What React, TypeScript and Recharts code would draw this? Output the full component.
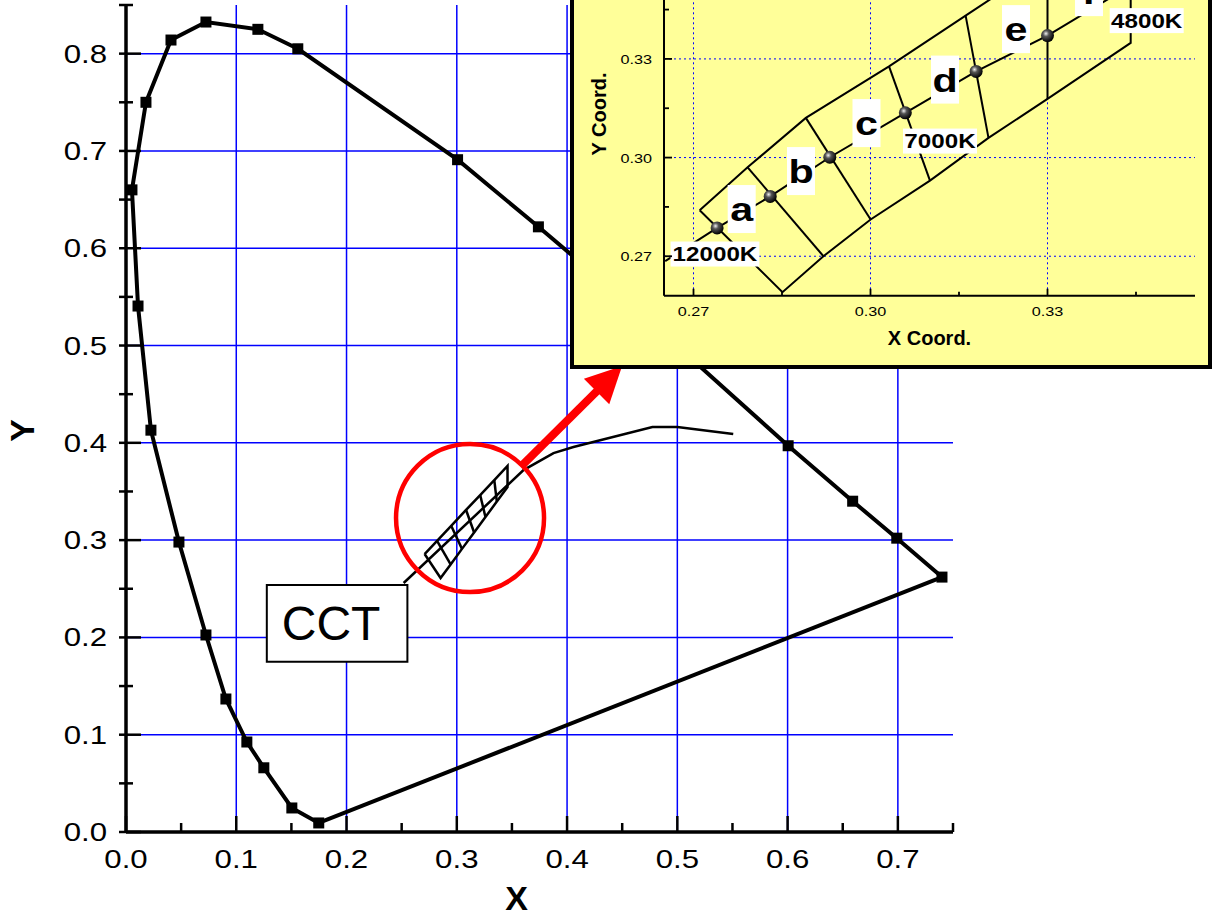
import React from 'react';
import {
  ScatterChart,
  Scatter,
  XAxis,
  YAxis,
  CartesianGrid,
  ReferenceArea,
  ReferenceDot,
  ReferenceLine,
} from 'recharts';

const FONT = '"Liberation Sans", Arial, Helvetica, sans-serif';

// ---------------- main chart data (CIE 1931 x, y) ----------------
const spectralLocus = [
  { x: 0.1748, y: 0.0093 },
  { x: 0.1504, y: 0.0247 },
  { x: 0.125, y: 0.066 },
  { x: 0.1096, y: 0.0925 },
  { x: 0.0906, y: 0.1367 },
  { x: 0.0725, y: 0.2025 },
  { x: 0.048, y: 0.298 },
  { x: 0.0226, y: 0.413 },
  { x: 0.0109, y: 0.5406 },
  { x: 0.0054, y: 0.66 },
  { x: 0.0181, y: 0.75 },
  { x: 0.0408, y: 0.814 },
  { x: 0.0725, y: 0.8325 },
  { x: 0.1196, y: 0.825 },
  { x: 0.1558, y: 0.805 },
  { x: 0.3007, y: 0.691 },
  { x: 0.374, y: 0.622 },
  { x: 0.4441, y: 0.5547 },
  { x: 0.5125, y: 0.4866 },
  { x: 0.6005, y: 0.397 },
  { x: 0.659, y: 0.34 },
  { x: 0.699, y: 0.302 },
  { x: 0.74, y: 0.262 },
];
const purpleLine = [
  { x: 0.74, y: 0.262 },
  { x: 0.1748, y: 0.0093 },
];
const planckMain = [
  { x: 0.2518, y: 0.2559 },
  { x: 0.3605, y: 0.372 },
  { x: 0.3877, y: 0.3895 },
  { x: 0.4058, y: 0.3957 },
  { x: 0.4774, y: 0.4162 },
  { x: 0.5, y: 0.4162 },
  { x: 0.5507, y: 0.409 },
];
const hatchMainOutline = [
  { x: 0.2708, y: 0.2857 },
  { x: 0.2821, y: 0.2993 },
  { x: 0.2949, y: 0.3147 },
  { x: 0.3084, y: 0.331 },
  { x: 0.3212, y: 0.3463 },
  { x: 0.334, y: 0.3617 },
  { x: 0.346, y: 0.3762 },
  { x: 0.346, y: 0.3546 },
  { x: 0.3363, y: 0.3396 },
  { x: 0.326, y: 0.3237 },
  { x: 0.3157, y: 0.3078 },
  { x: 0.3047, y: 0.291 },
  { x: 0.2944, y: 0.275 },
  { x: 0.2853, y: 0.261 },
  { x: 0.2708, y: 0.2857 },
];
const hatchMainCross = [
  [{ x: 0.2821, y: 0.2993 }, { x: 0.2944, y: 0.275 }],
  [{ x: 0.2949, y: 0.3147 }, { x: 0.3047, y: 0.291 }],
  [{ x: 0.3084, y: 0.331 }, { x: 0.3157, y: 0.3078 }],
  [{ x: 0.3212, y: 0.3463 }, { x: 0.326, y: 0.3237 }],
  [{ x: 0.334, y: 0.3617 }, { x: 0.3363, y: 0.3396 }],
];
const cctBox = { x1: 0.1277, x2: 0.2552, y1: 0.175, y2: 0.2539, text: 'CCT' };
const zoomCircle = { x: 0.312, y: 0.3227 };
const zoomArrow = [
  { x: 0.359, y: 0.3765 },
  { x: 0.4499, y: 0.4789 },
];

const mainXTicks = [0, 0.05, 0.1, 0.15, 0.2, 0.25, 0.3, 0.35, 0.4, 0.45, 0.5, 0.55, 0.6, 0.65, 0.7, 0.75];
const mainYTicks = [0, 0.05, 0.1, 0.15, 0.2, 0.25, 0.3, 0.35, 0.4, 0.45, 0.5, 0.55, 0.6, 0.65, 0.7, 0.75, 0.8, 0.85];
const mainXGrid = [0.1, 0.2, 0.3, 0.4, 0.5, 0.6, 0.7];
const mainYGrid = [0.1, 0.2, 0.3, 0.4, 0.5, 0.6, 0.7, 0.8];

// ---------------- inset data ----------------
const insetOutline = [
  { x: 0.27105, y: 0.28399 },
  { x: 0.27917, y: 0.29705 },
  { x: 0.28904, y: 0.31207 },
  { x: 0.30314, y: 0.32775 },
  { x: 0.31612, y: 0.34316 },
  { x: 0.33, y: 0.35964 },
  { x: 0.3441, y: 0.3764 },
  { x: 0.3441, y: 0.33486 },
  { x: 0.33, y: 0.31784 },
  { x: 0.32, y: 0.30598 },
  { x: 0.31008, y: 0.29301 },
  { x: 0.30002, y: 0.28116 },
  { x: 0.29202, y: 0.27 },
  { x: 0.28508, y: 0.25906 },
  { x: 0.27105, y: 0.28399 },
];
const insetIsotherms = [
  [{ x: 0.27917, y: 0.29705 }, { x: 0.29202, y: 0.27 }],
  [{ x: 0.28904, y: 0.31207 }, { x: 0.30002, y: 0.28116 }],
  [{ x: 0.30314, y: 0.32775 }, { x: 0.31008, y: 0.29301 }],
  [{ x: 0.31612, y: 0.34316 }, { x: 0.32, y: 0.30598 }],
  [{ x: 0.33, y: 0.35964 }, { x: 0.33, y: 0.31784 }],
];
const cctPoints = [
  { x: 0.274, y: 0.2786 },
  { x: 0.283, y: 0.2882 },
  { x: 0.2931, y: 0.3001 },
  { x: 0.3059, y: 0.3136 },
  { x: 0.3179, y: 0.3262 },
  { x: 0.33, y: 0.3371 },
  { x: 0.3441, y: 0.3523 },
];
const planckInset = [
  { x: 0.2652, y: 0.2685 },
  ...cctPoints,
  { x: 0.355, y: 0.364 },
];
const cellLabels = [
  { x: 0.27817, y: 0.28435, t: 'a' },
  { x: 0.28822, y: 0.2959, t: 'b' },
  { x: 0.29932, y: 0.31049, t: 'c' },
  { x: 0.31263, y: 0.32371, t: 'd' },
  { x: 0.32466, y: 0.33906, t: 'e' },
  { x: 0.33703, y: 0.35031, t: 'f' },
];
const tempLabels = [
  { x: 0.27364, y: 0.27067, t: '12000K' },
  { x: 0.31178, y: 0.30502, t: '7000K' },
  { x: 0.34681, y: 0.34165, t: '4800K' },
];
const insetXTicks = [0.27, 0.285, 0.3, 0.315, 0.33, 0.345];
const insetYTicks = [0.27, 0.285, 0.3, 0.315, 0.33, 0.345, 0.36];
const insetYLabels = [0.27, 0.3, 0.33];
const insetGrid = [0.27, 0.3, 0.33];

// ---------------- helpers ----------------
const isMajor = (v: number, step: number) => Math.abs(v / step - Math.round(v / step)) < 1e-6;
const noShape = () => <g />;

const Square = (p: any) => (
  <rect x={p.cx - 5.5} y={p.cy - 5.5} width={11} height={11} fill="#000" />
);

const Ball = (p: any) => (
  <g>
    <defs>
      <radialGradient id="ballGrad" cx="38%" cy="35%" r="65%">
        <stop offset="0%" stopColor="#f0f0f0" />
        <stop offset="35%" stopColor="#555" />
        <stop offset="100%" stopColor="#000" />
      </radialGradient>
    </defs>
    <circle cx={p.cx} cy={p.cy} r={6.5} fill="url(#ballGrad)" />
  </g>
);

const LetterLabel = (p: any) => (
  <g>
    <rect x={p.cx - 14} y={p.cy - 24} width={28} height={48} fill="#fff" />
    <text
      transform={`translate(${p.cx},${p.cy + 12}) scale(1.25,1)`}
      textAnchor="middle"
      fontSize={33}
      fontWeight="bold"
      fontFamily={FONT}
      fill="#000"
    >
      {p.payload.t}
    </text>
  </g>
);

const TempLabel = (p: any) => {
  const w = 14.8 * p.payload.t.length;
  return (
    <g>
      <rect x={p.cx - w / 2} y={p.cy - 12.5} width={w} height={25} fill="#fff" />
      <text
        transform={`translate(${p.cx},${p.cy + 7}) scale(1.21,1)`}
        textAnchor="middle"
        fontSize={20}
        fontWeight="bold"
        fontFamily={FONT}
        fill="#000"
      >
        {p.payload.t}
      </text>
    </g>
  );
};

const Arrow = (p: any) => {
  const { x1, y1, x2, y2 } = p;
  const dx = x2 - x1;
  const dy = y2 - y1;
  const len = Math.hypot(dx, dy) || 1;
  const ux = dx / len;
  const uy = dy / len;
  const headLen = 36;
  const headW = 18;
  const bx = x2 - ux * headLen;
  const by = y2 - uy * headLen;
  const px = -uy;
  const py = ux;
  return (
    <g>
      <line x1={x1} y1={y1} x2={bx + ux * 3} y2={by + uy * 3} stroke="#ff0000" strokeWidth={8} />
      <polygon
        points={`${x2},${y2} ${bx + px * headW},${by + py * headW} ${bx - px * headW},${by - py * headW}`}
        fill="#ff0000"
      />
    </g>
  );
};

// main axis ticks
const MainBottomTick = (p: any) => {
  const v = p.payload.value;
  const major = isMajor(v, 0.1);
  return (
    <g>
      <line x1={p.x} x2={p.x} y1={p.y} y2={p.y - (major ? 16 : 9)} stroke="#000" strokeWidth={2.5} />
      {major && (
        <text
          transform={`translate(${p.x},${p.y + 36}) scale(1.2,1)`}
          textAnchor="middle"
          fontSize={26}
          fontFamily={FONT}
          fill="#000"
        >
          {v.toFixed(1)}
        </text>
      )}
    </g>
  );
};
const MainTopTick = (p: any) => {
  const major = isMajor(p.payload.value, 0.1);
  return <line x1={p.x} x2={p.x} y1={p.y} y2={p.y + (major ? 11 : 8)} stroke="#000" strokeWidth={2.5} />;
};
const MainLeftTick = (p: any) => {
  const v = p.payload.value;
  const major = isMajor(v, 0.1);
  return (
    <g>
      <line x1={p.x - 7} x2={p.x + (major ? 15 : 7)} y1={p.y} y2={p.y} stroke="#000" strokeWidth={2.5} />
      {major && (
        <text
          transform={`translate(${p.x - 19},${p.y + 9}) scale(1.2,1)`}
          textAnchor="end"
          fontSize={26}
          fontFamily={FONT}
          fill="#000"
        >
          {v.toFixed(1)}
        </text>
      )}
    </g>
  );
};
const MainRightTick = (p: any) => {
  const major = isMajor(p.payload.value, 0.1);
  return <line x1={p.x} x2={p.x - (major ? 16 : 10)} y1={p.y} y2={p.y} stroke="#000" strokeWidth={2.5} />;
};

// inset axis ticks
const InsetBottomTick = (p: any) => {
  const v = p.payload.value;
  const major = isMajor(v, 0.03);
  return (
    <g>
      <line x1={p.x} x2={p.x} y1={p.y} y2={p.y - (major ? 7 : 4)} stroke="#000" strokeWidth={1.8} />
      {major && (
        <text
          transform={`translate(${p.x},${p.y + 20}) scale(1.2,1)`}
          textAnchor="middle"
          fontSize={13.5}
          fontFamily={FONT}
          fill="#000"
        >
          {v.toFixed(2)}
        </text>
      )}
    </g>
  );
};
const InsetTopTick = (p: any) => {
  const major = isMajor(p.payload.value, 0.03);
  return <line x1={p.x} x2={p.x} y1={p.y} y2={p.y + (major ? 7 : 4)} stroke="#000" strokeWidth={1.8} />;
};
const InsetLeftTick = (p: any) => {
  const v = p.payload.value;
  const major = isMajor(v, 0.03);
  const labelled = insetYLabels.some((l) => Math.abs(l - v) < 1e-6);
  return (
    <g>
      <line x1={p.x} x2={p.x + (major ? 8 : 5)} y1={p.y} y2={p.y} stroke="#000" strokeWidth={1.8} />
      {labelled && (
        <text
          transform={`translate(${p.x - 12},${p.y + 5}) scale(1.2,1)`}
          textAnchor="end"
          fontSize={13.5}
          fontFamily={FONT}
          fill="#000"
        >
          {v.toFixed(2)}
        </text>
      )}
    </g>
  );
};
const InsetRightTick = (p: any) => {
  const major = isMajor(p.payload.value, 0.03);
  return <line x1={p.x} x2={p.x - (major ? 8 : 5)} y1={p.y} y2={p.y} stroke="#000" strokeWidth={1.8} />;
};

const lineOnly = (data: any[], key: string, width: number, axes: any) => (
  <Scatter
    key={key}
    data={data}
    {...axes}
    fill="#000"
    line={{ stroke: '#000', strokeWidth: width }}
    shape={noShape}
    isAnimationActive={false}
  />
);

const MAIN_AXES = { xAxisId: 'x', yAxisId: 'y' };
const INSET_AXES = { xAxisId: 'ix', yAxisId: 'iy' };

export default function App() {
  return (
    <div style={{ position: 'absolute', left: 0, top: 0, width: 1215, height: 917, overflow: 'hidden', background: '#fff' }}>
      <div style={{ position: 'absolute', left: 0, top: 0 }}>
        <ScatterChart width={1215} height={917} margin={{ top: 5, right: 262, bottom: 0, left: 0 }}>
          <CartesianGrid
            xAxisId="x"
            yAxisId="y"
            stroke="#0000ff"
            strokeWidth={1.5}
            verticalValues={mainXGrid}
            horizontalValues={mainYGrid}
          />
          <XAxis
            xAxisId="x"
            dataKey="x"
            type="number"
            domain={[0, 0.75]}
            allowDataOverflow
            ticks={mainXTicks}
            interval={0}
            tickSize={0}
            tickMargin={0}
            tickLine={false}
            tick={MainBottomTick}
            height={85}
            axisLine={{ stroke: '#000', strokeWidth: 3.5 }}
            label={{
              content: (lp: any) => (
                <text
                  x={lp.viewBox.x + lp.viewBox.width / 2 - 23}
                  y={lp.viewBox.y + 78}
                  textAnchor="middle"
                  fontSize={34}
                  fontWeight="bold"
                  fontFamily={FONT}
                  fill="#000"
                >
                  X
                </text>
              ),
            }}
          />
          <XAxis
            xAxisId="xt"
            orientation="top"
            type="number"
            domain={[0, 0.75]}
            allowDataOverflow
            ticks={mainXTicks}
            interval={0}
            tickSize={0}
            tickMargin={0}
            tickLine={false}
            tick={MainTopTick}
            height={0}
            axisLine={{ stroke: '#000', strokeWidth: 3.5 }}
          />
          <YAxis
            yAxisId="y"
            dataKey="y"
            type="number"
            domain={[0, 0.85]}
            allowDataOverflow
            ticks={mainYTicks}
            interval={0}
            tickSize={0}
            tickMargin={0}
            tickLine={false}
            tick={MainLeftTick}
            width={126}
            axisLine={{ stroke: '#000', strokeWidth: 3.5 }}
            label={{
              content: (lp: any) => (
                <text
                  transform={`translate(${lp.viewBox.x + 34},${lp.viewBox.y + lp.viewBox.height / 2 + 12}) rotate(-90)`}
                  textAnchor="middle"
                  fontSize={34}
                  fontWeight="bold"
                  fontFamily={FONT}
                  fill="#000"
                >
                  Y
                </text>
              ),
            }}
          />
          <YAxis
            yAxisId="yr"
            orientation="right"
            type="number"
            domain={[0, 0.85]}
            allowDataOverflow
            ticks={mainYTicks}
            interval={0}
            tickSize={0}
            tickMargin={0}
            tickLine={false}
            tick={MainRightTick}
            width={0}
            axisLine={{ stroke: '#000', strokeWidth: 3.5 }}
          />
          <ReferenceArea
            {...MAIN_AXES}
            x1={cctBox.x1}
            x2={cctBox.x2}
            y1={cctBox.y1}
            y2={cctBox.y2}
            fill="#fff"
            fillOpacity={1}
            stroke="#000"
            strokeWidth={2}
            label={{
              content: (lp: any) => (
                <text
                  x={lp.viewBox.x + lp.viewBox.width / 2 - 6}
                  y={lp.viewBox.y + lp.viewBox.height / 2 + 17}
                  textAnchor="middle"
                  fontSize={48}
                  fontFamily={FONT}
                  fill="#000"
                >
                  {cctBox.text}
                </text>
              ),
            }}
          />
          {lineOnly(purpleLine, 'purple', 4, MAIN_AXES)}
          <Scatter
            data={spectralLocus}
            {...MAIN_AXES}
            fill="#000"
            line={{ stroke: '#000', strokeWidth: 4 }}
            shape={Square}
            isAnimationActive={false}
          />
          {lineOnly(planckMain, 'planck', 2.5, MAIN_AXES)}
          {lineOnly(hatchMainOutline, 'hatchOut', 2.5, MAIN_AXES)}
          {hatchMainCross.map((seg, i) => lineOnly(seg, `hc${i}`, 2.5, MAIN_AXES))}
          <ReferenceDot
            {...MAIN_AXES}
            x={zoomCircle.x}
            y={zoomCircle.y}
            r={74}
            fill="none"
            stroke="#ff0000"
            strokeWidth={4.5}
          />
          <ReferenceLine {...MAIN_AXES} segment={zoomArrow} shape={Arrow} ifOverflow="visible" />
        </ScatterChart>
      </div>

      <div
        style={{
          position: 'absolute',
          left: 570,
          top: -120,
          width: 642,
          height: 489,
          border: '4px solid #000',
          boxSizing: 'border-box',
          background: '#ffff99',
        }}
      >
        <ScatterChart width={634} height={481} margin={{ top: 48.3, right: 13, bottom: 0, left: 0 }}>
          <CartesianGrid
            xAxisId="ix"
            yAxisId="iy"
            stroke="#0000ff"
            strokeWidth={1}
            strokeDasharray="2 3"
            verticalValues={insetGrid}
            horizontalValues={insetGrid}
          />
          <XAxis
            xAxisId="ix"
            dataKey="x"
            type="number"
            domain={[0.265, 0.355]}
            allowDataOverflow
            ticks={insetXTicks}
            interval={0}
            tickSize={0}
            tickMargin={0}
            tickLine={false}
            tick={InsetBottomTick}
            height={69.3}
            axisLine={{ stroke: '#000', strokeWidth: 2 }}
            label={{
              content: (lp: any) => (
                <text
                  x={lp.viewBox.x + lp.viewBox.width / 2}
                  y={lp.viewBox.y + 49}
                  textAnchor="middle"
                  fontSize={20}
                  fontWeight="bold"
                  fontFamily={FONT}
                  fill="#000"
                >
                  X Coord.
                </text>
              ),
            }}
          />
          <XAxis
            xAxisId="ixt"
            orientation="top"
            type="number"
            domain={[0.265, 0.355]}
            allowDataOverflow
            ticks={insetXTicks}
            interval={0}
            tickSize={0}
            tickMargin={0}
            tickLine={false}
            tick={InsetTopTick}
            height={0}
            axisLine={{ stroke: '#000', strokeWidth: 2 }}
          />
          <YAxis
            yAxisId="iy"
            dataKey="y"
            type="number"
            domain={[0.258, 0.3685]}
            allowDataOverflow
            ticks={insetYTicks}
            interval={0}
            tickSize={0}
            tickMargin={0}
            tickLine={false}
            tick={InsetLeftTick}
            width={90}
            axisLine={{ stroke: '#000', strokeWidth: 2 }}
            label={{
              content: (lp: any) => (
                <text
                  transform={`translate(${lp.viewBox.x + 32},${lp.viewBox.y + lp.viewBox.height / 2}) rotate(-90)`}
                  textAnchor="middle"
                  fontSize={20}
                  fontWeight="bold"
                  fontFamily={FONT}
                  fill="#000"
                >
                  Y Coord.
                </text>
              ),
            }}
          />
          <YAxis
            yAxisId="iyr"
            orientation="right"
            type="number"
            domain={[0.258, 0.3685]}
            allowDataOverflow
            ticks={insetYTicks}
            interval={0}
            tickSize={0}
            tickMargin={0}
            tickLine={false}
            tick={InsetRightTick}
            width={0}
            axisLine={{ stroke: '#000', strokeWidth: 2 }}
          />
          {lineOnly(insetOutline, 'iout', 2, INSET_AXES)}
          {insetIsotherms.map((seg, i) => lineOnly(seg, `iso${i}`, 2, INSET_AXES))}
          {lineOnly(planckInset, 'iplanck', 2, INSET_AXES)}
          <Scatter data={cctPoints} {...INSET_AXES} fill="#000" shape={Ball} isAnimationActive={false} />
          <Scatter data={cellLabels} {...INSET_AXES} fill="#000" shape={LetterLabel} isAnimationActive={false} />
          <Scatter data={tempLabels} {...INSET_AXES} fill="#000" shape={TempLabel} isAnimationActive={false} />
        </ScatterChart>
      </div>
    </div>
  );
}
